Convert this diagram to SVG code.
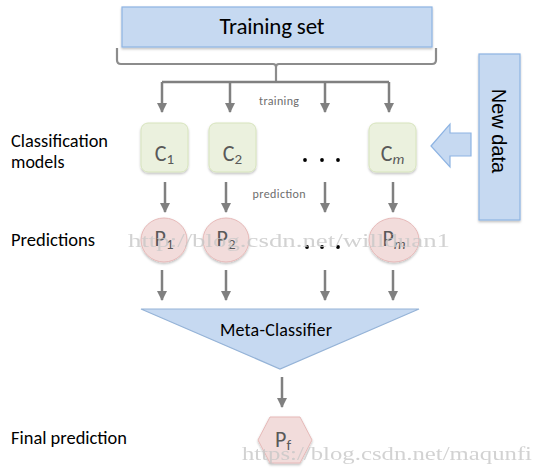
<svg xmlns="http://www.w3.org/2000/svg" width="544" height="476" viewBox="0 0 544 476">
<defs>
<style>
.lbl{font-family:Carlito,"Open Sans","Liberation Sans",sans-serif;font-size:18px;fill:#000}
.small{font-family:Carlito,"Open Sans","Liberation Sans",sans-serif;font-size:12px;fill:#6e6e6e}
.c{font-family:Carlito,"Open Sans","Liberation Sans",sans-serif;font-size:22px;fill:#595959}
.sub{font-size:15px}
.wm{font-family:"Liberation Serif","DejaVu Serif",serif;font-size:18px;fill:#c8c8c8;opacity:0.8}
.box{fill:#ebf1de;stroke:#d7e4bd;stroke-width:1}
.pc{fill:#f2dcdb;stroke:#e6b9b8;stroke-width:1}
.blue{fill:#c6d9f1;stroke:#8eb4e3;stroke-width:1.2}
.ar{stroke:#808080;stroke-width:2.5;marker-end:url(#ah2)}
</style>
<marker id="ah2" viewBox="0 0 10 10" refX="9" refY="5" markerWidth="4" markerHeight="4" orient="auto" markerUnits="strokeWidth">
<path d="M0,0 L10,5 L0,10 Z" fill="#808080"/>
</marker>
<filter id="sh" x="-20%" y="-20%" width="140%" height="140%">
<feDropShadow dx="0" dy="1.5" stdDeviation="1.2" flood-color="#000" flood-opacity="0.25"/>
</filter>
</defs>

<g id="training-set">
<rect x="122" y="7" width="310" height="40" class="blue" filter="url(#sh)"/>
<text x="272" y="34" text-anchor="middle" textLength="105" style="font-family:Carlito,'Open Sans','Liberation Sans',sans-serif;font-size:23px;fill:#000">Training set</text>
</g>

<g id="new-data">
<rect x="479" y="54" width="41" height="166" class="blue" filter="url(#sh)"/>
<text transform="translate(492 131) rotate(90)" text-anchor="middle" style="font-family:'Liberation Sans',Arial,sans-serif;font-size:20px;fill:#000">New data</text>
</g>

<g id="new-data-arrow">
<path d="M431,146 L450,124 L450,133 L471,133 L471,156 L450,156 L450,167 Z" class="blue"/>
</g>

<g id="labels">
<text x="11" y="147" class="lbl" textLength="97" lengthAdjust="spacingAndGlyphs">Classification</text>
<text x="11" y="168" class="lbl">models</text>
<text x="11" y="246" class="lbl" textLength="84" lengthAdjust="spacingAndGlyphs">Predictions</text>
<text x="11" y="444" class="lbl" textLength="116" lengthAdjust="spacingAndGlyphs">Final prediction</text>
<text x="279" y="105" text-anchor="middle" class="small" textLength="40">training</text>
<text x="279" y="198" text-anchor="middle" class="small" textLength="53">prediction</text>
</g>

<g id="c1">
<rect x="141" y="123" width="47" height="49" rx="7" class="box" filter="url(#sh)"/>
<text x="164.5" y="161" text-anchor="middle" class="c">C<tspan class="sub" dy="3">1</tspan></text>
</g>
<g id="c2">
<rect x="209" y="123" width="47" height="49" rx="7" class="box" filter="url(#sh)"/>
<text x="232.5" y="161" text-anchor="middle" class="c">C<tspan class="sub" dy="3">2</tspan></text>
</g>
<g id="c-dots">
<circle cx="305" cy="160" r="1.9" fill="#000"/>
<circle cx="322" cy="160" r="1.9" fill="#000"/>
<circle cx="338" cy="160" r="1.9" fill="#000"/>
</g>
<g id="cm">
<rect x="369" y="123" width="47" height="49" rx="7" class="box" filter="url(#sh)"/>
<text x="392.5" y="161" text-anchor="middle" class="c">C<tspan class="sub" dy="3" font-style="italic">m</tspan></text>
</g>

<g id="p1">
<ellipse cx="164" cy="240" rx="23" ry="22" class="pc" filter="url(#sh)"/>
<text x="164" y="246" text-anchor="middle" class="c">P<tspan class="sub" dy="3">1</tspan></text>
</g>
<g id="p2">
<ellipse cx="226" cy="240" rx="23" ry="22" class="pc" filter="url(#sh)"/>
<text x="226" y="246" text-anchor="middle" class="c">P<tspan class="sub" dy="3">2</tspan></text>
</g>
<g id="p-dots">
<circle cx="307" cy="247" r="1.9" fill="#000"/>
<circle cx="322" cy="247" r="1.9" fill="#000"/>
<circle cx="338" cy="247" r="1.9" fill="#000"/>
</g>
<g id="pm">
<ellipse cx="394" cy="240" rx="25" ry="22" class="pc" filter="url(#sh)"/>
<text x="394" y="246" text-anchor="middle" class="c">P<tspan class="sub" dy="3" font-style="italic">m</tspan></text>
</g>

<g id="meta-classifier">
<polygon points="141,309 419,309 280,369" style="fill:#c6d9f1;stroke:#95b3d7;stroke-width:1.2"/>
<text x="276" y="336" text-anchor="middle" textLength="112" style="font-family:Carlito,'Open Sans','Liberation Sans',sans-serif;font-size:18px;fill:#000">Meta-Classifier</text>
</g>

<g id="pf">
<polygon points="270,417 300,417 312,440 300,463 270,463 258,440" class="pc" filter="url(#sh)"/>
<text x="283" y="447" text-anchor="middle" class="c">P<tspan class="sub" dy="3">f</tspan></text>
</g>

<g id="connectors">
<path d="M117,48 L117,60 Q117,64 121,64 L273,64 Q276,64 276,67 L276,82 M276,82 L276,67 Q276,64 279,64 L432,64 Q436,64 436,60 L436,48" style="fill:none;stroke:#8c8c8c;stroke-width:2.2"/>
<path d="M162,82 L389,82" style="fill:none;stroke:#808080;stroke-width:2.5"/>
<line x1="162" y1="82" x2="162" y2="112" class="ar"/>
<line x1="230" y1="82" x2="230" y2="112" class="ar"/>
<line x1="325" y1="82" x2="325" y2="112" class="ar"/>
<line x1="389" y1="82" x2="389" y2="112" class="ar"/>
<line x1="165" y1="182" x2="165" y2="212" class="ar"/>
<line x1="226" y1="182" x2="226" y2="212" class="ar"/>
<line x1="325" y1="182" x2="325" y2="212" class="ar"/>
<line x1="393" y1="182" x2="393" y2="212" class="ar"/>
<line x1="162" y1="270" x2="162" y2="300" class="ar"/>
<line x1="226" y1="270" x2="226" y2="300" class="ar"/>
<line x1="325" y1="270" x2="325" y2="300" class="ar"/>
<line x1="393" y1="270" x2="393" y2="300" class="ar"/>
<line x1="282" y1="377" x2="282" y2="407" class="ar"/>
</g>

<g id="watermarks">
<text x="128" y="247" class="wm" textLength="322" lengthAdjust="spacingAndGlyphs">http://blog.csdn.net/willduan1</text>
<text x="242" y="460" class="wm" textLength="290" lengthAdjust="spacingAndGlyphs">https://blog.csdn.net/maqunfi</text>
</g>
</svg>
